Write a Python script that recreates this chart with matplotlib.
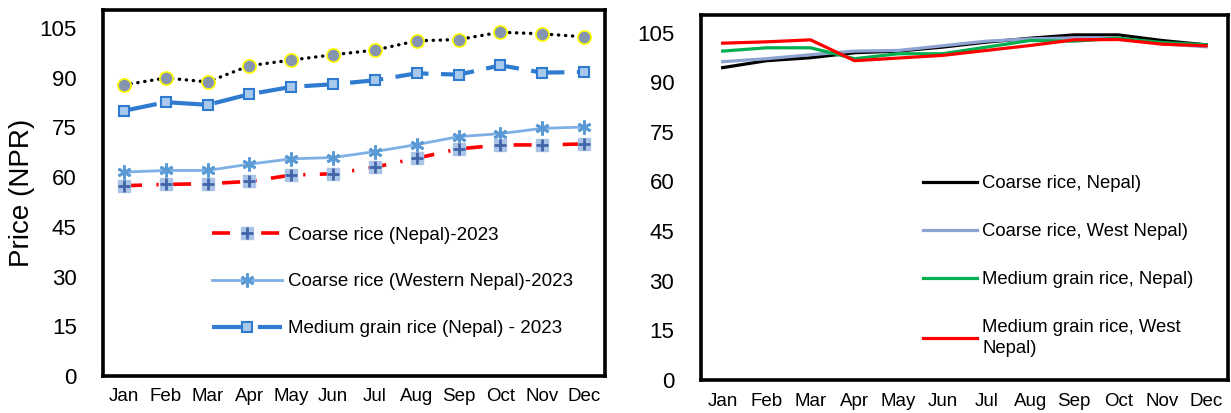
import numpy as np
import matplotlib.pyplot as plt
from matplotlib.legend_handler import HandlerTuple

plt.rcParams['font.family'] = ['Liberation Sans', 'DejaVu Sans']

months = ['Jan', 'Feb', 'Mar', 'Apr', 'May', 'Jun',
          'Jul', 'Aug', 'Sep', 'Oct', 'Nov', 'Dec']
yticks = [0, 15, 30, 45, 60, 75, 90, 105]

# left panel (2023 prices, NPR)
top_dotted = [87.8, 89.9, 88.7, 93.6, 95.3, 96.9, 98.3, 101.1, 101.5, 103.7, 103.2, 102.3]
medium_nepal_2023 = [80.0, 82.6, 81.8, 85.0, 87.2, 88.0, 89.2, 91.3, 90.9, 93.7, 91.5, 91.7]
coarse_west_2023 = [61.5, 62.0, 62.0, 63.9, 65.5, 65.9, 67.7, 69.8, 72.2, 73.1, 74.7, 75.1]
coarse_nepal_2023 = [57.4, 57.8, 58.0, 58.7, 60.6, 61.0, 63.0, 65.7, 68.5, 69.7, 69.7, 70.0]

# right panel
coarse_nepal = [94.4, 96.5, 97.4, 98.9, 99.4, 100.6, 102.1, 103.3, 104.3, 104.3, 102.6, 101.3]
coarse_west = [96.2, 97.1, 98.3, 99.4, 99.6, 101.0, 102.4, 103.1, 103.4, 103.4, 101.6, 100.7]
medium_nepal = [99.4, 100.4, 100.4, 97.1, 98.6, 98.6, 100.6, 102.6, 102.4, 103.3, 102.0, 101.3]
medium_west = [101.8, 102.2, 102.8, 96.5, 97.3, 98.1, 99.6, 101.1, 102.8, 102.9, 101.5, 101.0]

fig = plt.figure(figsize=(12.31, 4.13), dpi=100)
ax1 = fig.add_axes([0.0837, 0.0896, 0.4078, 0.8862])
ax2 = fig.add_axes([0.5692, 0.0799, 0.4284, 0.8845])

x = np.arange(len(months))

# ---- left ----
ax1.plot(x, top_dotted, color='black', lw=2.4, linestyle=(0, (0.1, 2.0)),
         dash_capstyle='round', marker='o', ms=9.5, mfc='#8595B0',
         mec='#FFFF00', mew=1.2, zorder=3)
l_med, = ax1.plot(x, medium_nepal_2023, color='#2E7BD0', lw=3.0,
                  linestyle=(0, (8, 3)), marker='s', ms=7, mfc='#A9C9EC',
                  mec='#2E7BD0', mew=1.5, zorder=3)
l_west, = ax1.plot(x, coarse_west_2023, color='#7EB0E5', lw=2.0,
                   marker=(6, 2, 0), ms=10, mec='#5B9BD5', mew=2.0, zorder=3)
l_coarse, = ax1.plot(x, coarse_nepal_2023, color='#FF0000', lw=2.6,
                     linestyle=(0, (5, 4, 0.6, 4)), marker='s', ms=9,
                     mfc='#A9C4E6', mec='#A9C4E6', zorder=3)
l_plus, = ax1.plot(x, coarse_nepal_2023, linestyle='none', marker='+', ms=8,
                   mec='#4264A8', mew=2.0, zorder=4)

ax1.legend([(l_coarse, l_plus), l_west, l_med],
           ['Coarse rice (Nepal)-2023', 'Coarse rice (Western Nepal)-2023',
            'Medium grain rice (Nepal) - 2023'],
           handler_map={tuple: HandlerTuple(ndivide=1)},
           loc='upper left', bbox_to_anchor=(0.1650, 0.474),
           bbox_transform=fig.transFigure, frameon=False, fontsize=13.5,
           handlelength=3.7, labelspacing=1.58, borderpad=0, handletextpad=0.35)

ax1.set_ylabel('Price (NPR)', fontsize=20, labelpad=3)

# ---- right ----
ax2.plot(x, coarse_nepal, color='black', lw=2.3, label='Coarse rice, Nepal)')
ax2.plot(x, coarse_west, color='#8EA3D2', lw=2.3, label='Coarse rice, West Nepal)')
ax2.plot(x, medium_nepal, color='#00B050', lw=2.3, label='Medium grain rice, Nepal)')
ax2.plot(x, medium_west, color='#FF0000', lw=2.3,
         label='Medium grain rice, West\nNepal)')

leg2 = ax2.legend(loc='upper left', bbox_to_anchor=(0.7425, 0.598),
                  bbox_transform=fig.transFigure, frameon=False, fontsize=13.3,
                  handlelength=2.9, labelspacing=1.68, borderpad=0,
                  handletextpad=0.3)
for t in leg2.get_texts():
    t.set_linespacing(1.25)

for ax in (ax1, ax2):
    ax.set_xlim(-0.5, 11.5)
    ax.set_ylim(0, 110.4)
    ax.set_xticks(x)
    ax.set_xticklabels(months, fontsize=13.5)
    ax.set_yticks(yticks)
    ax.tick_params(axis='y', labelsize=16, length=0, pad=19)
    ax.tick_params(axis='x', length=0, pad=9)
    for s in ax.spines.values():
        s.set_linewidth(2.6)
        s.set_color('black')

fig.savefig('out.png', dpi=100)
